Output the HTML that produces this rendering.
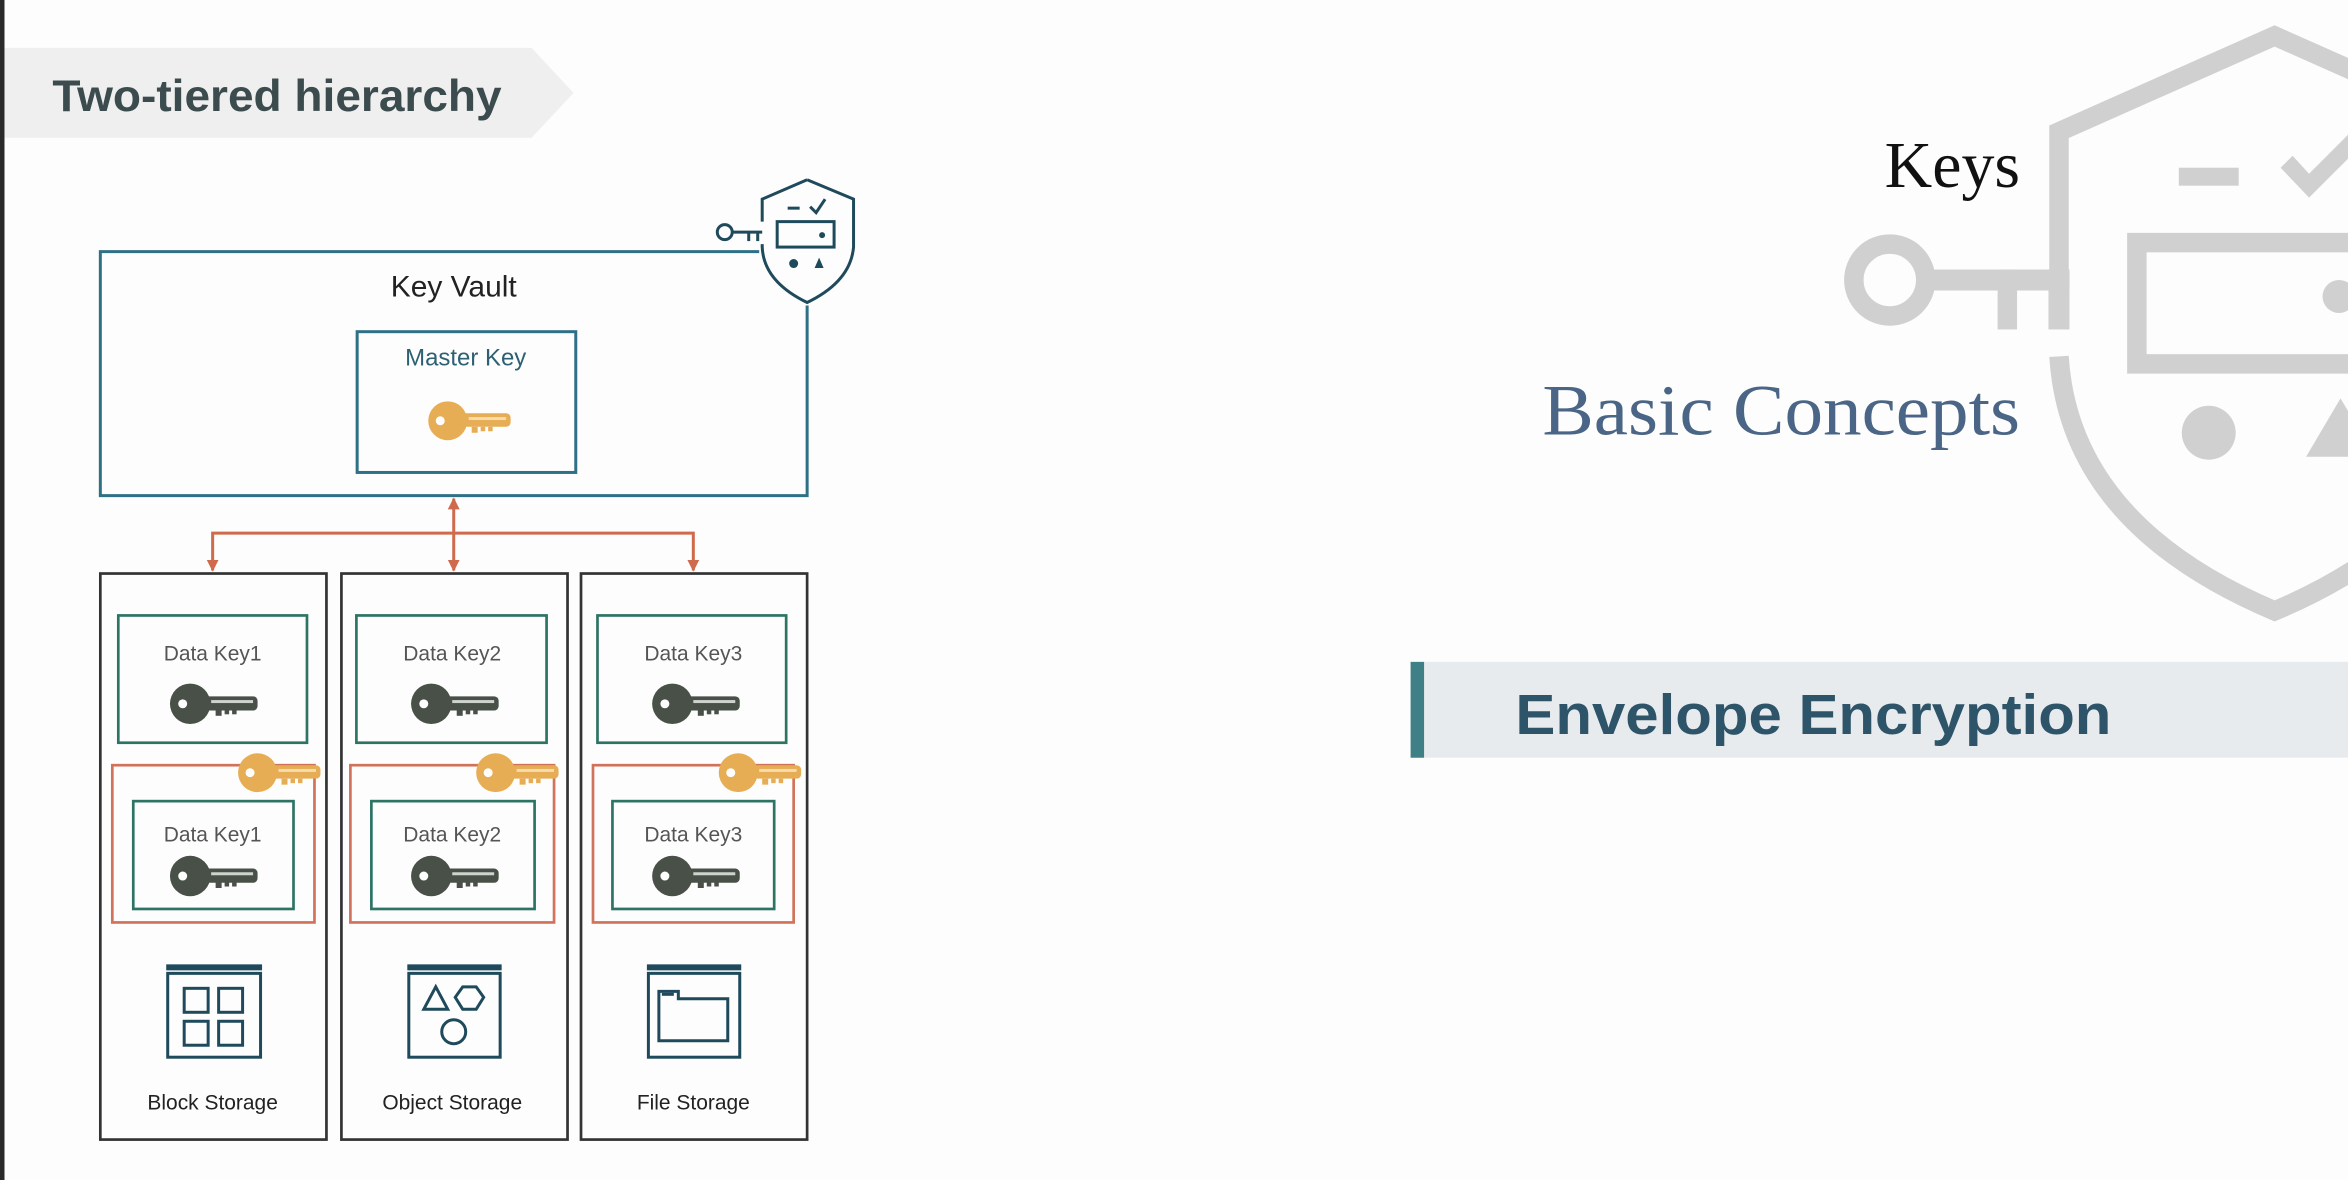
<!DOCTYPE html>
<html><head><meta charset="utf-8"><style>
html,body{margin:0;padding:0;background:#fdfdfd;}
svg{display:block;}
</style></head><body>
<svg width="2348" height="1180" viewBox="0 0 1568 788" preserveAspectRatio="none" xmlns="http://www.w3.org/2000/svg">
<defs>
<g id="dkey">
<circle cx="0" cy="0" r="13.5" fill="#485048"/>
<circle cx="-5" cy="0" r="3" fill="#fdfdfd"/>
<rect x="8" y="-5" width="37" height="9.5" rx="3" fill="#485048"/>
<rect x="14" y="-2.5" width="28" height="2" fill="#cfd3cf"/>
<rect x="17" y="4" width="4" height="4" fill="#485048"/>
<rect x="23" y="4" width="3" height="3" fill="#485048"/>
<rect x="28" y="4" width="3" height="3" fill="#485048"/>
</g>
<g id="gkey">
<circle cx="0" cy="0" r="13" fill="#e6ad55"/>
<circle cx="-5" cy="0" r="3" fill="#fdfdfd"/>
<rect x="8" y="-5" width="34" height="9" rx="3" fill="#e6ad55"/>
<rect x="14" y="-2.5" width="25" height="2" fill="#f5dca8"/>
<rect x="16" y="4" width="4" height="4" fill="#e6ad55"/>
<rect x="22" y="4" width="3" height="3" fill="#e6ad55"/>
<rect x="27" y="4" width="3" height="3" fill="#e6ad55"/>
</g>
<marker id="ah" viewBox="0 0 10 10" refX="9" refY="5" markerWidth="8" markerHeight="8" orient="auto-start-reverse" markerUnits="userSpaceOnUse">
<path d="M0,0 L10,5 L0,10 z" fill="#d06a4c"/>
</marker>
</defs>

<rect x="0" y="0" width="3" height="788" fill="#2a2a2a"/>

<polygon points="3,32 355,32 383,62 355,92 3,92" fill="#efefef"/>
<text x="35" y="74" font-family="Liberation Sans, sans-serif" font-weight="bold" font-size="30" textLength="300" lengthAdjust="spacingAndGlyphs" fill="#3b4b4e">Two-tiered hierarchy</text>

<path d="M507,168 L67,168 L67,331 L539,331 L539,204" fill="none" stroke="#2e7085" stroke-width="2"/>
<text x="303" y="198" text-anchor="middle" font-family="Liberation Sans, sans-serif" font-size="20" fill="#222">Key Vault</text>
<rect x="238.5" y="221.5" width="146" height="94" fill="none" stroke="#2e7085" stroke-width="2"/>
<text x="311" y="244" text-anchor="middle" font-family="Liberation Sans, sans-serif" font-size="16" fill="#2e6074">Master Key</text>
<use href="#gkey" transform="translate(299,281)"/>

<g fill="none" stroke="#1f4a5c" stroke-width="2">
<path d="M539,120 L570,133 L570,165 Q568,188 539,202 Q510,188 509,165 L509,163 M509,148 L509,133 L539,120"/>
<circle cx="484" cy="155" r="5"/>
<line x1="489" y1="155" x2="509" y2="155"/>
<line x1="500" y1="155" x2="500" y2="161"/>
<line x1="506" y1="155" x2="506" y2="161"/>
<rect x="519" y="148" width="38" height="17"/>
<line x1="526" y1="139" x2="534" y2="139"/>
<path d="M541,138 L545,142 L551,133"/>
</g>
<circle cx="549" cy="157" r="2" fill="#1f4a5c"/>
<circle cx="530" cy="176" r="3" fill="#1f4a5c"/>
<polygon points="547,172 544,179 550,179" fill="#1f4a5c"/>

<g stroke="#d06a4c" stroke-width="2" fill="none">
<line x1="303" y1="333" x2="303" y2="381" marker-start="url(#ah)" marker-end="url(#ah)"/>
<path d="M142,381 L142,356 L463,356 L463,381" marker-start="url(#ah)" marker-end="url(#ah)"/>
</g>

<g fill="none" stroke="#333" stroke-width="1.8">
<rect x="67" y="383" width="151" height="378"/>
<rect x="228" y="383" width="151" height="378"/>
<rect x="388" y="383" width="151" height="378"/>
</g>
<g fill="none" stroke="#2e7465" stroke-width="1.8">
<rect x="79" y="411" width="126" height="85"/>
<rect x="238" y="411" width="127" height="85"/>
<rect x="399" y="411" width="126" height="85"/>
<rect x="89" y="535" width="107" height="72"/>
<rect x="248" y="535" width="109" height="72"/>
<rect x="409" y="535" width="108" height="72"/>
</g>
<g fill="none" stroke="#d0735a" stroke-width="1.8">
<rect x="75" y="511" width="135" height="105"/>
<rect x="234" y="511" width="136" height="105"/>
<rect x="396" y="511" width="134" height="105"/>
</g>
<g font-family="Liberation Sans, sans-serif" font-size="14" fill="#555" text-anchor="middle">
<text x="142" y="441">Data Key1</text>
<text x="302" y="441">Data Key2</text>
<text x="463" y="441">Data Key3</text>
<text x="142" y="562">Data Key1</text>
<text x="302" y="562">Data Key2</text>
<text x="463" y="562">Data Key3</text>
</g>
<use href="#dkey" transform="translate(127,470)"/>
<use href="#dkey" transform="translate(288,470)"/>
<use href="#dkey" transform="translate(449,470)"/>
<use href="#dkey" transform="translate(127,585)"/>
<use href="#dkey" transform="translate(288,585)"/>
<use href="#dkey" transform="translate(449,585)"/>
<use href="#gkey" transform="translate(172,516)"/>
<use href="#gkey" transform="translate(331,516)"/>
<use href="#gkey" transform="translate(493,516)"/>

<g fill="none" stroke="#1f4a5c" stroke-width="2">
<rect x="112" y="650" width="62" height="56"/>
<rect x="123" y="660" width="16" height="16"/>
<rect x="146" y="660" width="16" height="16"/>
<rect x="123" y="682" width="16" height="16"/>
<rect x="146" y="682" width="16" height="16"/>
<rect x="273" y="650" width="61" height="56"/>
<polygon points="291,659 283,674 299,674"/>
<polygon points="309,659 318,659 323,666 318,674 309,674 304,666"/>
<circle cx="303" cy="689" r="8"/>
<rect x="433" y="650" width="61" height="56"/>
<path d="M440,662 L440,695 L486,695 L486,667 L453,667 L453,662 Z"/>
<line x1="442" y1="664" x2="450" y2="664"/>
</g>
<g fill="#1f4a5c">
<rect x="111" y="644" width="64" height="4"/>
<rect x="272" y="644" width="63" height="4"/>
<rect x="432" y="644" width="63" height="4"/>
</g>
<g font-family="Liberation Sans, sans-serif" font-size="14" fill="#222" text-anchor="middle">
<text x="142" y="741">Block Storage</text>
<text x="302" y="741">Object Storage</text>
<text x="463" y="741">File Storage</text>
</g>

<g fill="none" stroke="#d0d0d0" stroke-width="13">
<path d="M1375,185 L1375,88 L1519,24 L1663,88"/>
<path d="M1375,238 Q1382,350 1519,408 Q1656,350 1663,238"/>
<circle cx="1262" cy="187" r="24"/>
<rect x="1427" y="162" width="160" height="81"/>
</g>
<g fill="#d0d0d0">
<rect x="1285" y="180" width="97" height="14"/>
<rect x="1334" y="180" width="13" height="40"/>
<rect x="1368" y="180" width="14" height="40"/>
<rect x="1455" y="112" width="40" height="12"/>
<path d="M1523,112 L1531,104 L1542,116 L1568,90 L1568,106 L1542,132 Z"/>
<circle cx="1562" cy="198" r="11"/>
<circle cx="1475" cy="289" r="18"/>
<polygon points="1563,266 1540,305 1586,305"/>
</g>

<text x="1349" y="125" text-anchor="end" font-family="Liberation Serif, serif" font-size="44" fill="#111">Keys</text>
<text x="1349" y="290" text-anchor="end" font-family="Liberation Serif, serif" font-size="48" textLength="319" lengthAdjust="spacingAndGlyphs" fill="#4a6585">Basic Concepts</text>

<rect x="942" y="442" width="626" height="64" fill="#e8ebee"/>
<rect x="942" y="442" width="9" height="64" fill="#3f7f86"/>
<text x="1012" y="490" font-family="Liberation Sans, sans-serif" font-weight="bold" font-size="38" textLength="398" lengthAdjust="spacingAndGlyphs" fill="#2d5468">Envelope Encryption</text>
</svg>
</body></html>
